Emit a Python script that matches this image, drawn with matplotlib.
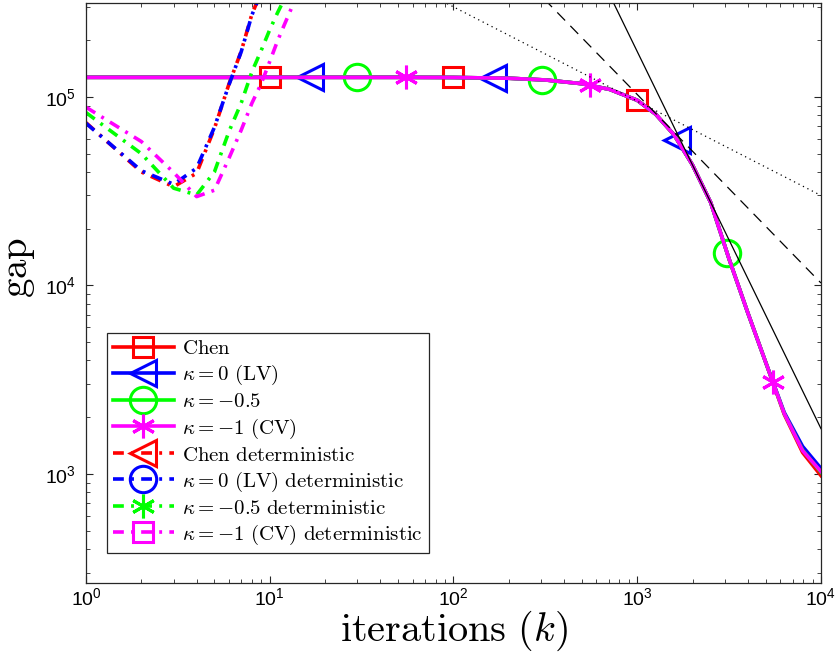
import numpy as np
import matplotlib
matplotlib.use('Agg')
import matplotlib.pyplot as plt
from matplotlib.lines import Line2D

plt.rcParams['font.family'] = ['Liberation Sans', 'DejaVu Sans']
plt.rcParams['mathtext.fontset'] = 'cm'

# stochastic runs (solid lines)
k_stoch = [1, 50, 100, 200, 316, 500, 708, 1000, 1259, 1585, 1995, 2512, 3162,
           3981, 5012, 6310, 7943, 10000]
gap_chen = [1.27e5, 1.27e5, 1.268e5, 1.256e5, 1.23e5, 1.175e5, 1.096e5, 9.6e4, 8.1e4,
            6.3e4, 4.37e4, 2.75e4, 1.38e4, 7.24e3, 3.89e3, 2.07e3, 1.3e3, 0.98e3]
gap_lv = [1.27e5, 1.27e5, 1.268e5, 1.256e5, 1.23e5, 1.175e5, 1.096e5, 9.6e4, 8.1e4,
          6.3e4, 4.37e4, 2.75e4, 1.38e4, 7.24e3, 3.89e3, 2.12e3, 1.4e3, 1.07e3]
gap_half = [1.27e5, 1.27e5, 1.268e5, 1.256e5, 1.23e5, 1.175e5, 1.096e5, 9.6e4, 8.1e4,
            6.3e4, 4.37e4, 2.75e4, 1.38e4, 7.24e3, 3.89e3, 2.09e3, 1.34e3, 1.02e3]
gap_cv = [1.27e5, 1.27e5, 1.268e5, 1.256e5, 1.23e5, 1.175e5, 1.096e5, 9.6e4, 8.1e4,
          6.3e4, 4.37e4, 2.75e4, 1.38e4, 7.24e3, 3.89e3, 2.09e3, 1.33e3, 1.03e3]

# where the markers sit on the stochastic curves
mk_chen = [10, 100, 1000]
mk_lv = [16.5, 165, 1650]
mk_half = [30, 305, 3080]
mk_cv = [55, 550, 5480]

# deterministic runs (dash-dot), k = 1, 2, 3, ...
det_chen = [7.3e4, 4.0e4, 3.34e4, 3.94e4, 6.8e4, 1.17e5, 1.75e5, 2.75e5, 3.6e5]
det_lv = [7.25e4, 4.06e4, 3.44e4, 4.19e4, 6.9e4, 1.16e5, 1.74e5, 2.72e5, 3.6e5]
det_half = [8.26e4, 5.0e4, 3.28e4, 3.02e4, 4.0e4, 6.55e4, 9.3e4, 1.36e5, 1.77e5,
            2.27e5, 2.78e5, 3.3e5]
det_cv = [8.82e4, 5.8e4, 3.97e4, 2.96e4, 3.2e4, 4.73e4, 6.68e4, 9.27e4, 1.18e5,
          1.54e5, 1.97e5, 2.41e5, 2.89e5, 3.4e5]

# rate reference lines (end points)
ref_x = [10, 10000]
ref_half = [9.5e5, 3.0e4]     # ~ 1/sqrt(k), dotted
ref_one = [1.03e7, 1.03e4]    # ~ 1/k, dashed
ref_two = [1.74e9, 1.74e3]    # ~ 1/k^2, solid

labels = ['$\\mathrm{Chen}$',
          '$\\kappa=0\\ \\mathrm{(LV)}$',
          '$\\kappa=-0.5$',
          '$\\kappa=-1\\ \\mathrm{(CV)}$',
          '$\\mathrm{Chen\\ deterministic}$',
          '$\\kappa=0\\ \\mathrm{(LV)\\ deterministic}$',
          '$\\kappa=-0.5\\ \\mathrm{deterministic}$',
          '$\\kappa=-1\\ \\mathrm{(CV)\\ deterministic}$']

red, blue, green, mag = '#ff0000', '#0000ff', '#00ff00', '#ff00ff'
ast = (6, 2, 0)
dashdot = (0, (3, 2, 0.8, 2))

fig = plt.figure(figsize=(8.38, 6.57), dpi=100)
ax = fig.add_axes([0.1026, 0.1126, 0.8771, 0.8821])


def on_curve(mk, k, g):
    return np.exp(np.interp(np.log(mk), np.log(k), np.log(g)))


stoch = [(gap_chen, mk_chen, red, 's', 15),
         (gap_lv, mk_lv, blue, '<', 19),
         (gap_half, mk_half, green, 'o', 19),
         (gap_cv, mk_cv, mag, ast, 17)]
for g, mk, c, m, ms in stoch:
    ax.plot(k_stoch, g, color=c, lw=2.6)
    ax.plot(mk, on_curve(mk, k_stoch, g), ls='none', marker=m, ms=ms,
            mfc='none', mec=c, mew=2.2)

for g, c in [(det_chen, red), (det_lv, blue), (det_half, green), (det_cv, mag)]:
    ax.plot(np.arange(1, len(g) + 1), g, color=c, lw=2.6, ls=dashdot)

ax.plot(ref_x, ref_half, color='k', lw=0.9, ls=(0, (1, 3)))
ax.plot(ref_x, ref_one, color='k', lw=0.9, ls=(0, (9, 6)))
ax.plot(ref_x, ref_two, color='k', lw=0.9)

ax.set_xscale('log')
ax.set_yscale('log')
ax.set_xlim(1, 1e4)
ax.set_ylim(2.64e2, 3.13e5)
ax.set_xticks([1, 10, 100, 1000, 10000])
ax.set_yticks([1e3, 1e4, 1e5])
ax.tick_params(which='both', direction='in', top=True, right=True,
               labelsize=14, color='#262626', pad=3)
ax.tick_params(axis='y', which='both', pad=7)
ax.tick_params(which='major', length=5)
ax.tick_params(which='minor', length=2.8)
for s in ax.spines.values():
    s.set_color('#262626')
    s.set_linewidth(0.9)

ax.set_xlabel('$\\mathrm{iterations}\\ (k)$', fontsize=29, labelpad=0)
ax.set_ylabel('$\\mathrm{gap}$', fontsize=28)
ax.yaxis.set_label_coords(-0.066, 0.545)

handles = [
    Line2D([], [], color=red, lw=2.6, marker='s', ms=15, mfc='none', mew=2.2),
    Line2D([], [], color=blue, lw=2.6, marker='<', ms=19, mfc='none', mew=2.2),
    Line2D([], [], color=green, lw=2.6, marker='o', ms=19, mfc='none', mew=2.2),
    Line2D([], [], color=mag, lw=2.6, marker=ast, ms=17, mfc='none', mew=2.2),
    Line2D([], [], color=red, lw=2.6, ls=dashdot, marker='<', ms=19, mfc='none', mew=2.2),
    Line2D([], [], color=blue, lw=2.6, ls=dashdot, marker='o', ms=19, mfc='none', mew=2.2),
    Line2D([], [], color=green, lw=2.6, ls=dashdot, marker=ast, ms=17, mfc='none', mew=2.2),
    Line2D([], [], color=mag, lw=2.6, ls=dashdot, marker='s', ms=15, mfc='none', mew=2.2),
]
leg = ax.legend(handles, labels, loc='lower left', bbox_to_anchor=(0.0286, 0.0518),
                borderaxespad=0, fontsize=15, fancybox=False, edgecolor='#262626',
                framealpha=1, handlelength=2.9, handletextpad=0.4,
                labelspacing=0.24, borderpad=0.3)
leg.get_frame().set_linewidth(0.9)

fig.savefig('out.png', dpi=100)
